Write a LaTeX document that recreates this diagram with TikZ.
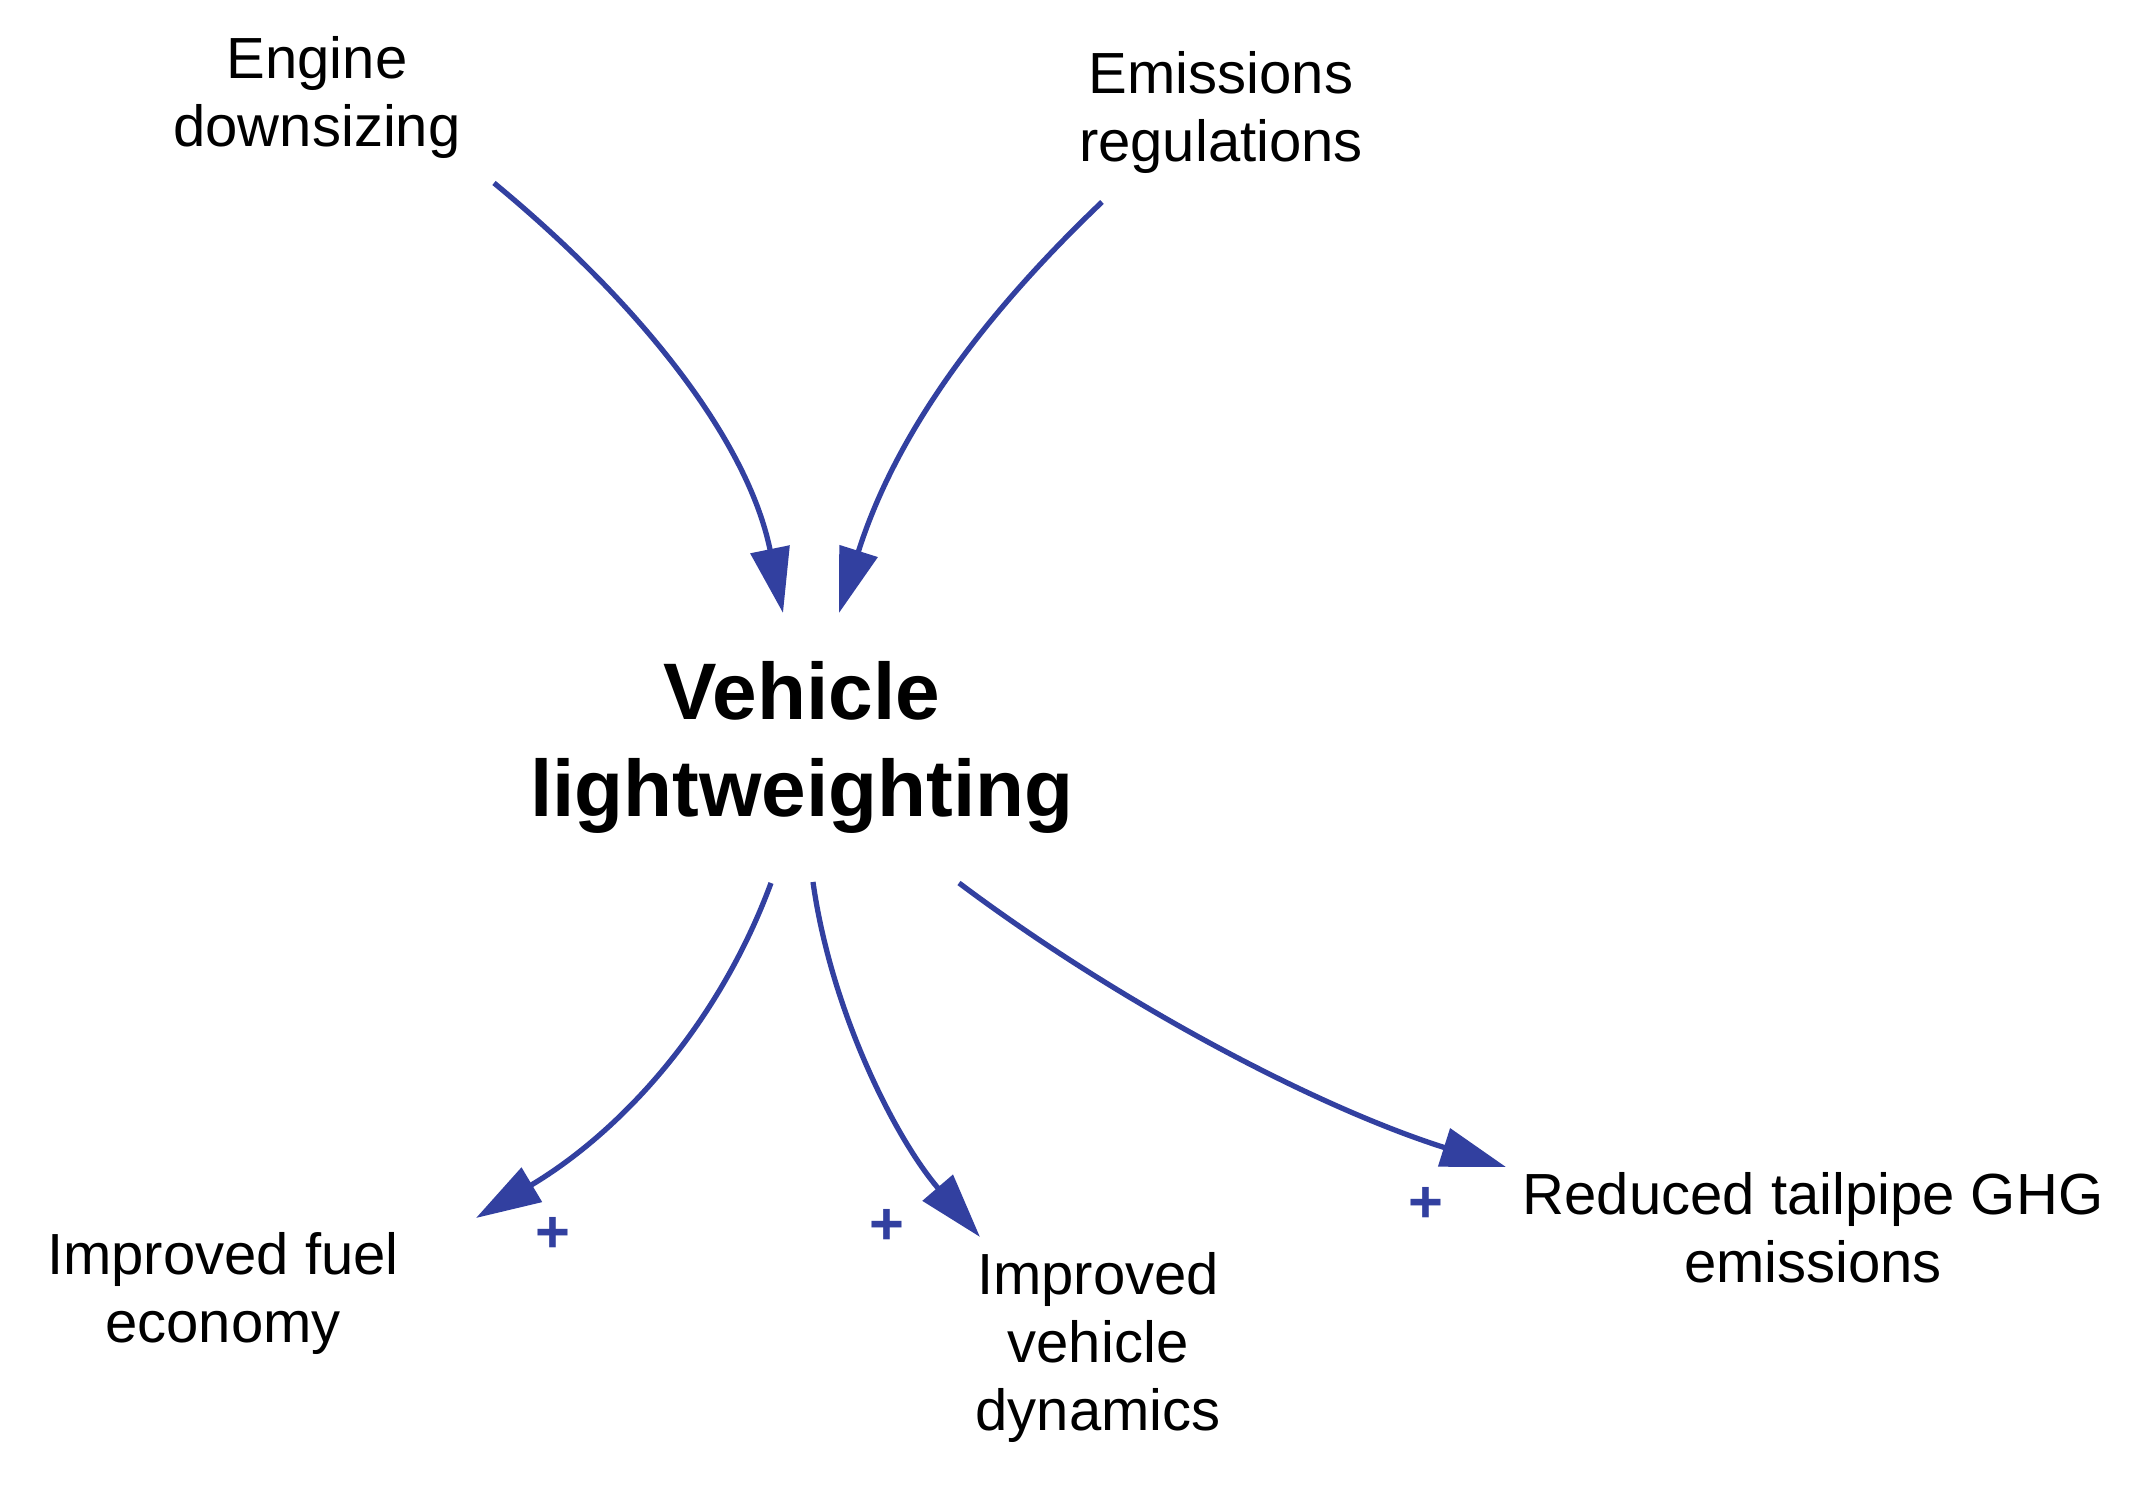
\documentclass[tikz,border=0pt]{standalone}
\usepackage{fontspec}
\setmainfont{Liberation Sans}
\usetikzlibrary{arrows.meta}
\definecolor{linkblue}{RGB}{50,64,160}
\begin{document}
\begin{tikzpicture}[x=0.01cm,y=-0.01cm,
  lbl/.style={font=\fontsize{16.5}{19.35}\selectfont, align=center, inner sep=0pt, anchor=base},
  mainlbl/.style={font=\bfseries\fontsize{22.8}{27.6}\selectfont, align=center, inner sep=0pt, anchor=base},
  link/.style={draw=linkblue, line width=1.5pt, -{Triangle[length=0.65cm,width=0.39cm]}},
  pol/.style={text=linkblue, font=\bfseries\fontsize{17}{17}\selectfont, inner sep=0pt}
]
\useasboundingbox (0,0) rectangle (2147,1486);
\fill[white] (0,0) rectangle (2147,1486);

% texts (anchored at the baseline of the last line)
\node[lbl] (eng) at (317,147) {Engine\\downsizing};
\node[lbl] (ems) at (1221,162) {Emissions\\regulations};
\node[mainlbl] (veh) at (802,817) {Vehicle\\lightweighting};
\node[lbl] (fuel) at (223,1343) {Improved fuel\\economy};
\node[lbl] (dyn) at (1098,1431) {Improved\\vehicle\\dynamics};
\node[lbl] (ghg) at (1813,1283) {Reduced tailpipe GHG\\emissions};

% polarity signs
\node[pol] (p1) at (553,1235) {+};
\node[pol] (p2) at (887,1227) {+};
\node[pol] (p3) at (1426,1205) {+};

% connector end points
\coordinate (engout) at (494,183);
\coordinate (vehin1) at (783,613);
\coordinate (emsout) at (1102,202);
\coordinate (vehin2) at (839,613);
\coordinate (vehout1) at (771,883);
\coordinate (fuelin) at (476,1218);
\coordinate (vehout2) at (813,882);
\coordinate (dynin) at (980,1237);
\coordinate (vehout3) at (959,883);
\coordinate (ghgin) at (1506,1167);

% connectors
\draw[link] (engout) .. controls (636,300) and (747,437) .. (vehin1);
\draw[link] (emsout) .. controls (972,326) and (893,442) .. (vehin2);
\draw[link] (vehout1) .. controls (719,1024) and (622,1131) .. (fuelin);
\draw[link] (vehout2) .. controls (831,1011) and (895,1138) .. (dynin);
\draw[link] (vehout3) .. controls (1119,1003) and (1316,1107) .. (ghgin);
\end{tikzpicture}
\end{document}
